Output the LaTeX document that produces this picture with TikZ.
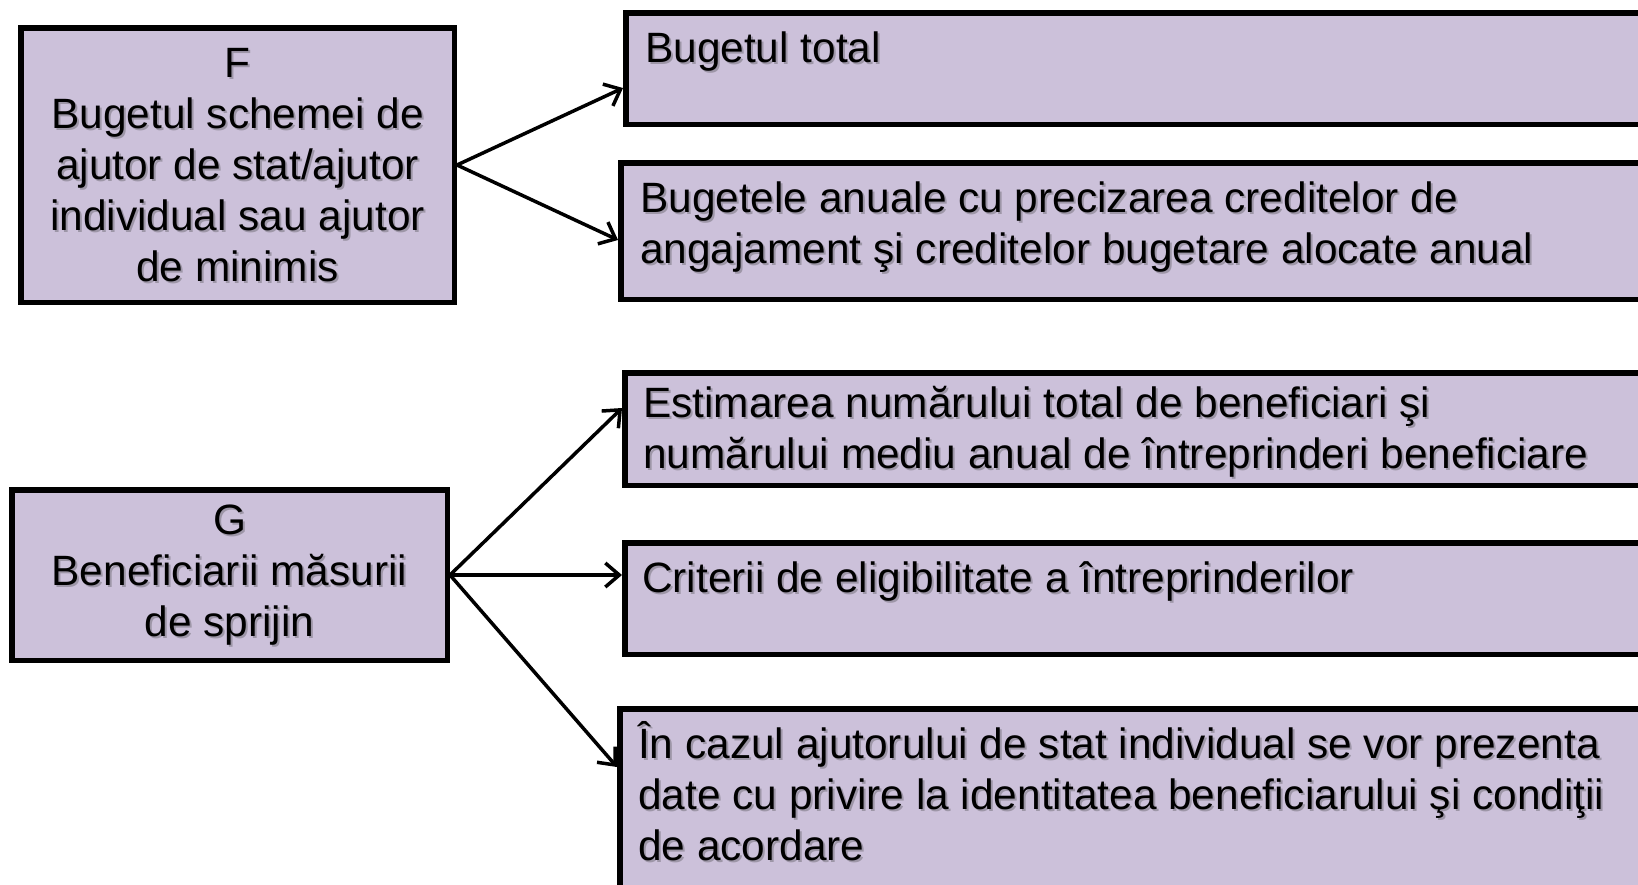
\documentclass[tikz,border=0pt]{standalone}
\usepackage{fontspec}
\setmainfont{Liberation Sans}
\usetikzlibrary{arrows.meta}
\definecolor{lav}{HTML}{CCC1DA}
\definecolor{shad}{HTML}{8E8896}
\tikzset{
  box/.style={draw=black, line width=5.5pt, fill=lav, inner sep=0pt},
  txt/.style={anchor=base west, inner sep=0pt, align=left,
    font=\fontsize{42.4}{51}\selectfont},
  ctxt/.style={anchor=center, inner sep=0pt, align=center,
    font=\fontsize{42.4}{51}\selectfont},
  shadowed/.style={text=shad, xshift=2pt, yshift=-2pt, opacity=0.75},
  arr/.style={line width=3.5pt, -{Straight Barb[length=14pt,width=24pt,line width=3.5pt]}}
}
% text with a soft shadow: #1 style, #2 name, #3 position, #4 text
\newcommand{\shtext}[4]{%
  \node[#1, shadowed] at (#3) {#4};
  \node[#1] (#2) at (#3) {#4};}
\begin{document}
\begin{tikzpicture}[x=1pt,y=-1pt]
\useasboundingbox (0,0) rectangle (1638,884);
\clip (0,0) rectangle (1638,884);
% left boxes
\node[box, minimum width=433.5pt, minimum height=274.5pt] (F) at (237.5,165) {};
\node[box, minimum width=435.5pt, minimum height=170.5pt] (G) at (229.5,575) {};
% right boxes
\node[box, minimum width=1071.5pt, minimum height=111.5pt] (b1) at (1161.5,68.5) {};
\node[box, minimum width=1076.5pt, minimum height=136.5pt] (b2) at (1159,231) {};
\node[box, minimum width=1072.5pt, minimum height=112.5pt] (b3) at (1161,429) {};
\node[box, minimum width=1072.5pt, minimum height=111.5pt] (b4) at (1161,598.5) {};
\node[box, minimum width=1077.5pt, minimum height=228.5pt] (b5) at (1158.5,823) {};
% texts (base anchor = baseline of last line)
\shtext{ctxt}{tF}{F.center}{F\\Bugetul schemei de\\ajutor de stat/ajutor\\individual sau ajutor\\de minimis}
\shtext{ctxt}{tG}{G.center}{G\\Beneficiarii măsurii\\de sprijin}
\shtext{txt}{t1}{645,62}{Bugetul total}
\shtext{txt}{t2}{640,263}{Bugetele anuale cu precizarea creditelor de\\angajament şi creditelor bugetare alocate anual}
\shtext{txt}{t3}{643,468}{Estimarea numărului total de beneficiari şi\\numărului mediu anual de întreprinderi beneficiare}
\shtext{txt}{t4}{642,592}{Criterii de eligibilitate a întreprinderilor}
\shtext{txt}{t5}{638,860}{În cazul ajutorului de stat individual se vor prezenta\\date cu privire la identitatea beneficiarului şi condiţii\\de acordare}
% connectors
\draw[arr] (F.east) -- ([yshift=-19.5pt]b1.west);
\draw[arr] (F.east) -- ([yshift=-9pt]b2.west);
\draw[arr] (G.east) -- ([yshift=21pt]b3.west);
\draw[arr] (G.east) -- ([yshift=23.5pt]b4.west);
\draw[arr] (G.east) -- ([yshift=56pt]b5.west);
\end{tikzpicture}
\end{document}
